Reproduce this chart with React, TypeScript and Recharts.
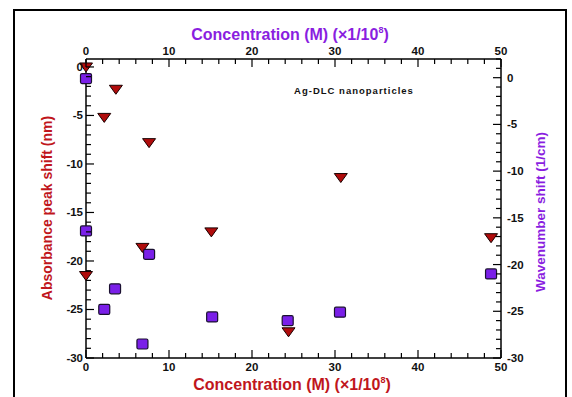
import React from "react";
import { ScatterChart, Scatter, XAxis, YAxis } from "recharts";

// Absorbance peak shift (nm) vs concentration (bottom / left axes)
const absConc = [0, 3.6, 2.2, 7.6, 6.8, 0, 15.1, 24.4, 30.7, 48.8];
const absShift = [0, -2.3, -5.2, -7.8, -18.6, -21.5, -17.0, -27.3, -11.4, -17.6];

// Wavenumber shift (1/cm) vs concentration (top / right axes)
const waveConc = [0, 0, 7.6, 3.5, 2.2, 6.8, 15.2, 24.3, 30.6, 48.8];
const waveShift = [-0.1, -16.4, -18.9, -22.6, -24.8, -28.5, -25.6, -26.0, -25.1, -21.0];

const xTicks = [0, 2, 4, 6, 8, 10, 12, 14, 16, 18, 20, 22, 24, 26, 28, 30, 32, 34, 36, 38, 40, 42, 44, 46, 48, 50];
const yLeftTicks = [-30, -29, -28, -27, -26, -25, -24, -23, -22, -21, -20, -19, -18, -17, -16, -15, -14, -13, -12, -11, -10, -9, -8, -7, -6, -5, -4, -3, -2, -1, 0];
const yRightTicks = [-30, -29, -28, -27, -26, -25, -24, -23, -22, -21, -20, -19, -18, -17, -16, -15, -14, -13, -12, -11, -10, -9, -8, -7, -6, -5, -4, -3, -2, -1, 0, 1, 2];

const absData = absConc.map((x, i) => ({ x, y: absShift[i] }));
const waveData = waveConc.map((x, i) => ({ x, y: waveShift[i] }));

const FONT = "'Liberation Sans', Arial, sans-serif";
const RED = "#c0161c";
const PURPLE = "#8a1ee0";

const tickText = { fontFamily: FONT, fontWeight: 700, fontSize: 11.5, fill: "#111" } as const;

const LeftTick = (p: any) => {
  const v = p.payload.value;
  const major = v % 5 === 0;
  return (
    <g>
      <line x1={p.x} x2={p.x + (major ? 8 : 5)} y1={p.y} y2={p.y} stroke="#000" strokeWidth={1.2} />
      {major && (
        <text x={p.x - 3} y={p.y} textAnchor="end" dominantBaseline="central" {...tickText}>
          {v}
        </text>
      )}
    </g>
  );
};

const RightTick = (p: any) => {
  const v = p.payload.value;
  const major = v % 5 === 0;
  return (
    <g>
      <line x1={p.x} x2={p.x - (major ? 8 : 5)} y1={p.y} y2={p.y} stroke="#000" strokeWidth={1.2} />
      {major && (
        <text x={p.x + 6} y={p.y} textAnchor="start" dominantBaseline="central" {...tickText}>
          {v}
        </text>
      )}
    </g>
  );
};

const TopTick = (p: any) => {
  const v = p.payload.value;
  const major = v % 10 === 0;
  return (
    <g>
      <line x1={p.x} x2={p.x} y1={p.y} y2={p.y + (major ? 8 : 5)} stroke="#000" strokeWidth={1.2} />
      {major && (
        <text x={p.x} y={p.y - 8} textAnchor="middle" dominantBaseline="central" {...tickText}>
          {v}
        </text>
      )}
    </g>
  );
};

const BottomTick = (p: any) => {
  const v = p.payload.value;
  const major = v % 10 === 0;
  return (
    <g>
      <line x1={p.x} x2={p.x} y1={p.y} y2={p.y - (major ? 8 : 5)} stroke="#000" strokeWidth={1.2} />
      {major && (
        <text x={p.x} y={p.y + 9} textAnchor="middle" dominantBaseline="central" {...tickText}>
          {v}
        </text>
      )}
    </g>
  );
};

const DownTriangle = (p: any) => {
  const { cx, cy } = p;
  const w = 6.5;
  return (
    <polygon
      points={`${cx - w},${cy - 4} ${cx + w},${cy - 4} ${cx},${cy + 5}`}
      fill="#b00c0c"
      stroke="#1a0000"
      strokeWidth={1}
    />
  );
};

const Square = (p: any) => {
  const { cx, cy } = p;
  return (
    <rect x={cx - 5.5} y={cy - 5} width={11} height={10} rx={1.5} fill="#7a1fe8" stroke="#1a1030" strokeWidth={1.2} />
  );
};

export default function App() {
  return (
    <div style={{ position: "absolute", left: 0, top: 0, width: 572, height: 397, background: "#fff", overflow: "hidden" }}>
      <div
        style={{
          position: "absolute",
          left: 13,
          top: 9,
          width: 554,
          height: 420,
          border: "2px solid #000",
          boxSizing: "border-box",
        }}
      />
      <div style={{ position: "absolute", left: 0, top: 0 }}>
        <ScatterChart width={572} height={397} margin={{ top: 0, right: 0, bottom: 0, left: 0 }}>
          <XAxis
            xAxisId="bottom"
            orientation="bottom"
            type="number"
            dataKey="x"
            domain={[0, 50]}
            ticks={xTicks}
            interval={0}
            height={39}
            tickSize={0}
            tickMargin={0}
            tickLine={false}
            tick={<BottomTick />}
            axisLine={{ stroke: "#000", strokeWidth: 1.5 }}
          />
          <XAxis
            xAxisId="top"
            orientation="top"
            type="number"
            dataKey="x"
            domain={[0, 50]}
            ticks={xTicks}
            interval={0}
            height={59}
            tickSize={0}
            tickMargin={0}
            tickLine={false}
            tick={<TopTick />}
            axisLine={{ stroke: "#000", strokeWidth: 1.5 }}
          />
          <YAxis
            yAxisId="left"
            orientation="left"
            type="number"
            dataKey="y"
            domain={[-30, 0.82]}
            ticks={yLeftTicks}
            interval={0}
            width={86}
            tickSize={0}
            tickMargin={0}
            tickLine={false}
            tick={<LeftTick />}
            axisLine={{ stroke: "#000", strokeWidth: 1.5 }}
          />
          <YAxis
            yAxisId="right"
            orientation="right"
            type="number"
            dataKey="y"
            domain={[-30, 2.0]}
            ticks={yRightTicks}
            interval={0}
            width={71}
            tickSize={0}
            tickMargin={0}
            tickLine={false}
            tick={<RightTick />}
            axisLine={{ stroke: "#000", strokeWidth: 1.5 }}
          />
          <Scatter
            name="Absorbance peak shift"
            data={absData}
            xAxisId="bottom"
            yAxisId="left"
            shape={<DownTriangle />}
            isAnimationActive={false}
          />
          <Scatter
            name="Wavenumber shift"
            data={waveData}
            xAxisId="top"
            yAxisId="right"
            shape={<Square />}
            isAnimationActive={false}
          />
        </ScatterChart>
      </div>
      <svg width={572} height={397} style={{ position: "absolute", left: 0, top: 0, pointerEvents: "none" }}>
        <text x={290} y={40} textAnchor="middle" fontFamily={FONT} fontWeight={700} fontSize={16} fill={PURPLE}>
          Concentration (M) (×1/10<tspan dy={-7} fontSize={9}>8</tspan><tspan dy={7}>)</tspan>
        </text>
        <text x={292} y={390} textAnchor="middle" fontFamily={FONT} fontWeight={700} fontSize={16} fill={RED}>
          Concentration (M) (×1/10<tspan dy={-7} fontSize={9}>8</tspan><tspan dy={7}>)</tspan>
        </text>
        <text
          x={0}
          y={0}
          transform="translate(52,208) rotate(-90)"
          textAnchor="middle"
          fontFamily={FONT}
          fontWeight={700}
          fontSize={14}
          fill={RED}
        >
          Absorbance peak shift (nm)
        </text>
        <text
          x={0}
          y={0}
          transform="translate(545,212) rotate(-90)"
          textAnchor="middle"
          fontFamily={FONT}
          fontWeight={700}
          fontSize={13.5}
          fill={PURPLE}
        >
          Wavenumber shift (1/cm)
        </text>
        <text x={354} y={94} textAnchor="middle" fontFamily={FONT} fontWeight={700} fontSize={9.5} letterSpacing={1} fill="#111">
          Ag-DLC nanoparticles
        </text>
      </svg>
    </div>
  );
}
